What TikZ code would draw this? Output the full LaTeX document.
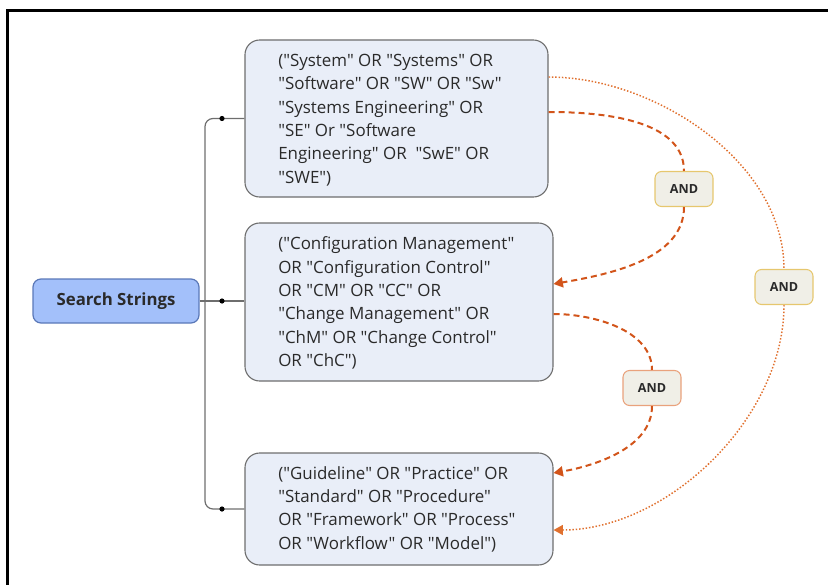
\documentclass[tikz,border=0pt]{standalone}
\usepackage{fontspec}
\setmainfont{Open Sans}[Ligatures=TeXOff]
\usetikzlibrary{arrows.meta,calc}
\definecolor{boxfill}{HTML}{E9EEF8}
\definecolor{boxline}{HTML}{6E6E6E}
\definecolor{rootfill}{HTML}{A3C0FA}
\definecolor{rootline}{HTML}{5A78B8}
\definecolor{andfill}{HTML}{F0EFE7}
\definecolor{andgold}{HTML}{E6C76E}
\definecolor{andpeach}{HTML}{E9A27C}
\definecolor{relorange}{HTML}{D2541A}
\definecolor{reldot}{HTML}{E0702E}
\definecolor{txt}{HTML}{2A2A2A}
\tikzset{
  termbox/.style={draw=boxline, fill=boxfill, line width=1.1pt*0.75, rounded corners=11pt, inner sep=0pt},
  termtext/.style={anchor=west, align=left, inner sep=0pt, text=txt,
    font=\fontsize{12.7pt}{17.5pt}\selectfont},
  rootbox/.style={draw=rootline, fill=rootfill, line width=0.9pt, rounded corners=6pt,
    minimum width=166*0.75pt, minimum height=44*0.75pt, inner sep=0pt,
    font=\bfseries\fontsize{12.6pt}{14pt}\selectfont, text=txt},
  andbox/.style={fill=andfill, line width=0.8pt, rounded corners=5pt,
    minimum width=58*0.75pt, minimum height=35*0.75pt, inner sep=0pt,
    font=\bfseries\fontsize{9.4pt}{11pt}\selectfont, text=txt},
  tree/.style={draw=boxline, line width=1.2pt*0.75},
  joint/.style={fill=black},
  anddash/.style={draw=relorange, line width=1.5pt, dash pattern=on 4.5pt off 3pt},
  anddot/.style={draw=reldot, line width=1.1pt, dash pattern=on 1.1pt off 1.4pt},
  tip/.style={-{Triangle[length=7pt,width=7.5pt]}}
}
\begin{document}
\begin{tikzpicture}[x=0.75pt,y=-0.75pt]
\useasboundingbox (0,0) rectangle (828,585);
% outer frame (only the top and left edges fall on the page)
\draw[line width=1.8pt] (828,10.5) -- (7.5,10.5) -- (7.5,585);

% root node
\node[rootbox] (ss) at (116,301) {Search Strings};

% term groups
\node[termbox, minimum width=303*0.75pt, minimum height=157*0.75pt] (b1) at (396.5,118.5) {};
\node[termtext] (t1) at (278,120) {("System" OR "Systems" OR\\
"Software" OR "SW" OR "Sw"\\
"Systems Engineering" OR\\
"SE" Or "Software\\
Engineering" OR \ "SwE" OR\\
"SWE")};

\node[termbox, minimum width=308*0.75pt, minimum height=158*0.75pt] (b2) at (399,302) {};
\node[termtext] (t2) at (278,303) {("Configuration Management"\\
OR "Configuration Control"\\
OR "CM" OR "CC" OR\\
"Change Management" OR\\
"ChM" OR "Change Control"\\
OR "ChC")};

\node[termbox, minimum width=308*0.75pt, minimum height=112*0.75pt] (b3) at (399,509) {};
\node[termtext] (t3) at (278,509) {("Guideline" OR "Practice" OR\\
"Standard" OR "Procedure"\\
OR "Framework" OR "Process"\\
OR "Workflow" OR "Model")};

% tree connectors
\coordinate (trunk) at (205,0);
\coordinate (dotx) at (222,0);
\draw[tree] (ss.east) -- (ss.east -| b2.west);
\draw[tree, rounded corners=6pt] (b1.west) -- (b1.west -| trunk) -- (b3.west -| trunk) -- (b3.west);
\fill[joint] (b1.west -| dotx) circle (2.6);
\fill[joint] (ss.east -| dotx) circle (2.6);
\fill[joint] (b3.west -| dotx) circle (2.6);

% AND relations
\node[andbox, draw=andgold] (a1) at (684,189) {AND};
\node[andbox, draw=andgold] (a2) at (784,287) {AND};
\node[andbox, draw=andpeach] (a3) at (652,388) {AND};

\draw[anddash] ($(b1.east)+(0,-6.5)$) to[out=0,in=90,looseness=0.9] (a1.north);
\draw[anddash, tip] (a1.south) to[out=-90,in=10,looseness=0.9] ($(b2.east)+(0,-18)$);

\draw[anddash] ($(b2.east)+(0,12)$) to[out=0,in=90,looseness=0.9] (a3.north);
\draw[anddash, tip] (a3.south) to[out=-90,in=10,looseness=0.9] ($(b3.east)+(0,-36)$);

\draw[anddot] ($(b1.east)+(0,-41.5)$) to[out=0,in=90,looseness=0.9] (a2.north);
\draw[anddot, tip] (a2.south) to[out=-90,in=0,looseness=0.9] ($(b3.east)+(0,21)$);
\end{tikzpicture}
\end{document}
